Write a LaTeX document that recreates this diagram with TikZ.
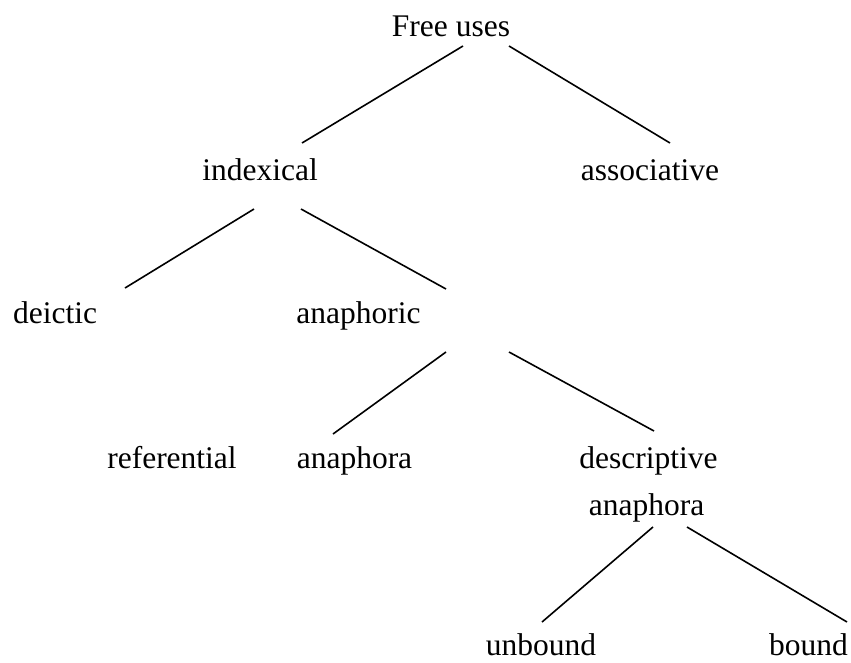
\documentclass[tikz,border=0pt]{standalone}
\usepackage{fontspec}
\setmainfont{Liberation Serif}
\begin{document}
\begin{tikzpicture}[x=1pt,y=-1pt,
  lbl/.style={anchor=base,inner sep=0pt,font=\fontsize{31.5}{36}\selectfont},
  edge/.style={line width=1.6pt,line cap=butt}]
\useasboundingbox (0,0) rectangle (851,662);
% labels
\node[lbl] (free) at (451,36) {Free uses};
\node[lbl] (indexical) at (260,180) {indexical};
\node[lbl] (associative) at (650,180) {associative};
\node[lbl] (deictic) at (55,323) {deictic};
\node[lbl] (anaphoric) at (358.5,323) {anaphoric};
\node[lbl] (referential) at (172,468) {referential};
\node[lbl] (anaphoraA) at (354.5,468) {anaphora};
\node[lbl] (descriptive) at (648.5,468) {descriptive};
\node[lbl] (anaphoraB) at (646.5,515) {anaphora};
\node[lbl] (unbound) at (541,655) {unbound};
\node[lbl] (bound) at (808.5,655) {bound};
% connector end points
\coordinate (f1) at (463,46);   \coordinate (i0) at (302,143);
\coordinate (f2) at (509,46);   \coordinate (as0) at (670,143);
\coordinate (i1) at (254,209);  \coordinate (d0) at (125,288);
\coordinate (i2) at (301,209);  \coordinate (an0) at (446,289);
\coordinate (an1) at (446,352); \coordinate (a0) at (333,434);
\coordinate (an2) at (509,352); \coordinate (de0) at (654,431);
\coordinate (b1) at (653,527);  \coordinate (u0) at (542,622);
\coordinate (b2) at (687,527);  \coordinate (bo0) at (847,622);
% connectors
\draw[edge] (f1) -- (i0);
\draw[edge] (f2) -- (as0);
\draw[edge] (i1) -- (d0);
\draw[edge] (i2) -- (an0);
\draw[edge] (an1) -- (a0);
\draw[edge] (an2) -- (de0);
\draw[edge] (b1) -- (u0);
\draw[edge] (b2) -- (bo0);
\end{tikzpicture}
\end{document}
